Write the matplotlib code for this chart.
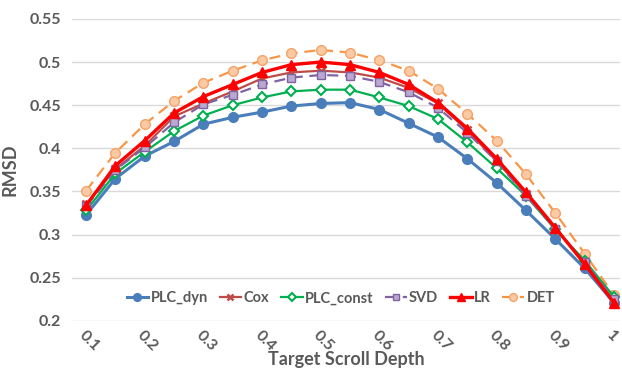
import matplotlib.pyplot as plt

# x categories (every other one gets a label)
depths = ["0.1", "0.15", "0.2", "0.25", "0.3", "0.35", "0.4", "0.45", "0.5", "0.55",
          "0.6", "0.65", "0.7", "0.75", "0.8", "0.85", "0.9", "0.95", "1"]

plc_dyn = [0.323, 0.365, 0.391, 0.408, 0.428, 0.436, 0.442, 0.449, 0.452, 0.453,
           0.445, 0.429, 0.413, 0.388, 0.360, 0.328, 0.295, 0.261, 0.221]
cox = [0.335, 0.376, 0.403, 0.437, 0.452, 0.466, 0.481, 0.488, 0.490, 0.488,
       0.482, 0.470, 0.452, 0.421, 0.385, 0.347, 0.307, 0.268, 0.224]
plc_const = [0.328, 0.371, 0.396, 0.420, 0.438, 0.450, 0.459, 0.466, 0.468, 0.468,
             0.459, 0.449, 0.434, 0.407, 0.377, 0.345, 0.306, 0.270, 0.228]
svd = [0.333, 0.375, 0.401, 0.430, 0.451, 0.462, 0.474, 0.482, 0.485, 0.484,
       0.477, 0.465, 0.447, 0.418, 0.385, 0.345, 0.307, 0.268, 0.225]
lr = [0.334, 0.380, 0.409, 0.441, 0.460, 0.474, 0.488, 0.497, 0.500, 0.497,
      0.488, 0.474, 0.453, 0.423, 0.388, 0.349, 0.308, 0.266, 0.221]
det = [0.351, 0.395, 0.428, 0.455, 0.476, 0.490, 0.502, 0.510, 0.514, 0.511,
       0.502, 0.490, 0.469, 0.440, 0.409, 0.370, 0.325, 0.278, 0.230]

GRAY = "#595959"
plt.rcParams["font.family"] = ["Lato", "DejaVu Sans"]

fig = plt.figure(figsize=(6.22, 3.71), dpi=100)
ax = fig.add_axes([0.116, 0.135, 0.881, 0.814])

x = list(range(len(depths)))

ax.plot(x, plc_dyn, "-o", color="#4a7ebb", lw=2.2, ms=7, label="PLC_dyn", zorder=3)
ax.plot(x, cox, "-x", color="#be4b48", lw=1.6, ms=6, mew=1.8, label="Cox", zorder=3)
ax.plot(x, plc_const, "-D", color="#00b050", lw=1.6, ms=5.5, mfc="white", mew=1.5,
        label="PLC_const", zorder=3)
line_svd, = ax.plot(x, svd, "--s", color="#8064a2", lw=1.6, ms=6, mfc="#b9a8d0",
                    mec="#8064a2", label="SVD", zorder=3)
line_svd.set_dashes([5, 3])
ax.plot(x, lr, "-^", color="#ff0000", lw=2.4, ms=7.5, label="LR", zorder=4)
line_det, = ax.plot(x, det, "--o", color="#f79646", lw=1.6, ms=7, mfc="#fbc9a3",
                    mec="#f4a46a", label="DET", zorder=2)
line_det.set_dashes([5, 3])

ax.set_xlim(-0.477, 18.21)
ax.set_ylim(0.2, 0.55)
ax.set_yticks([0.2, 0.25, 0.3, 0.35, 0.4, 0.45, 0.5, 0.55])
ax.set_yticklabels(["0.2", "0.25", "0.3", "0.35", "0.4", "0.45", "0.5", "0.55"])
ax.set_xticks(x[::2])
ax.set_xticklabels(depths[::2], rotation=-45, ha="left", va="top",
                   rotation_mode="anchor")

ax.tick_params(length=0, labelsize=11.5, labelcolor=GRAY)
ax.tick_params(axis="y", pad=8)
ax.tick_params(axis="x", pad=5)
for lab in ax.get_xticklabels() + ax.get_yticklabels():
    lab.set_fontweight("bold")

ax.grid(True, axis="y", color="#d9d9d9", lw=1)
ax.set_axisbelow(True)
for s in ax.spines.values():
    s.set_visible(False)

ax.set_ylabel("RMSD", fontsize=13, color=GRAY, fontweight="bold", labelpad=8)
ax.set_xlabel("Target Scroll Depth", fontsize=13, color=GRAY, fontweight="bold",
              labelpad=-2)

leg = ax.legend(loc="center", bbox_to_anchor=(0.49, 0.075), ncol=6, frameon=False,
                handlelength=1.5, handletextpad=0.15, columnspacing=0.8,
                markerscale=0.8, prop={"weight": "bold", "size": 10.5})
for t in leg.get_texts():
    t.set_color(GRAY)

fig.savefig("out.png", dpi=100)
